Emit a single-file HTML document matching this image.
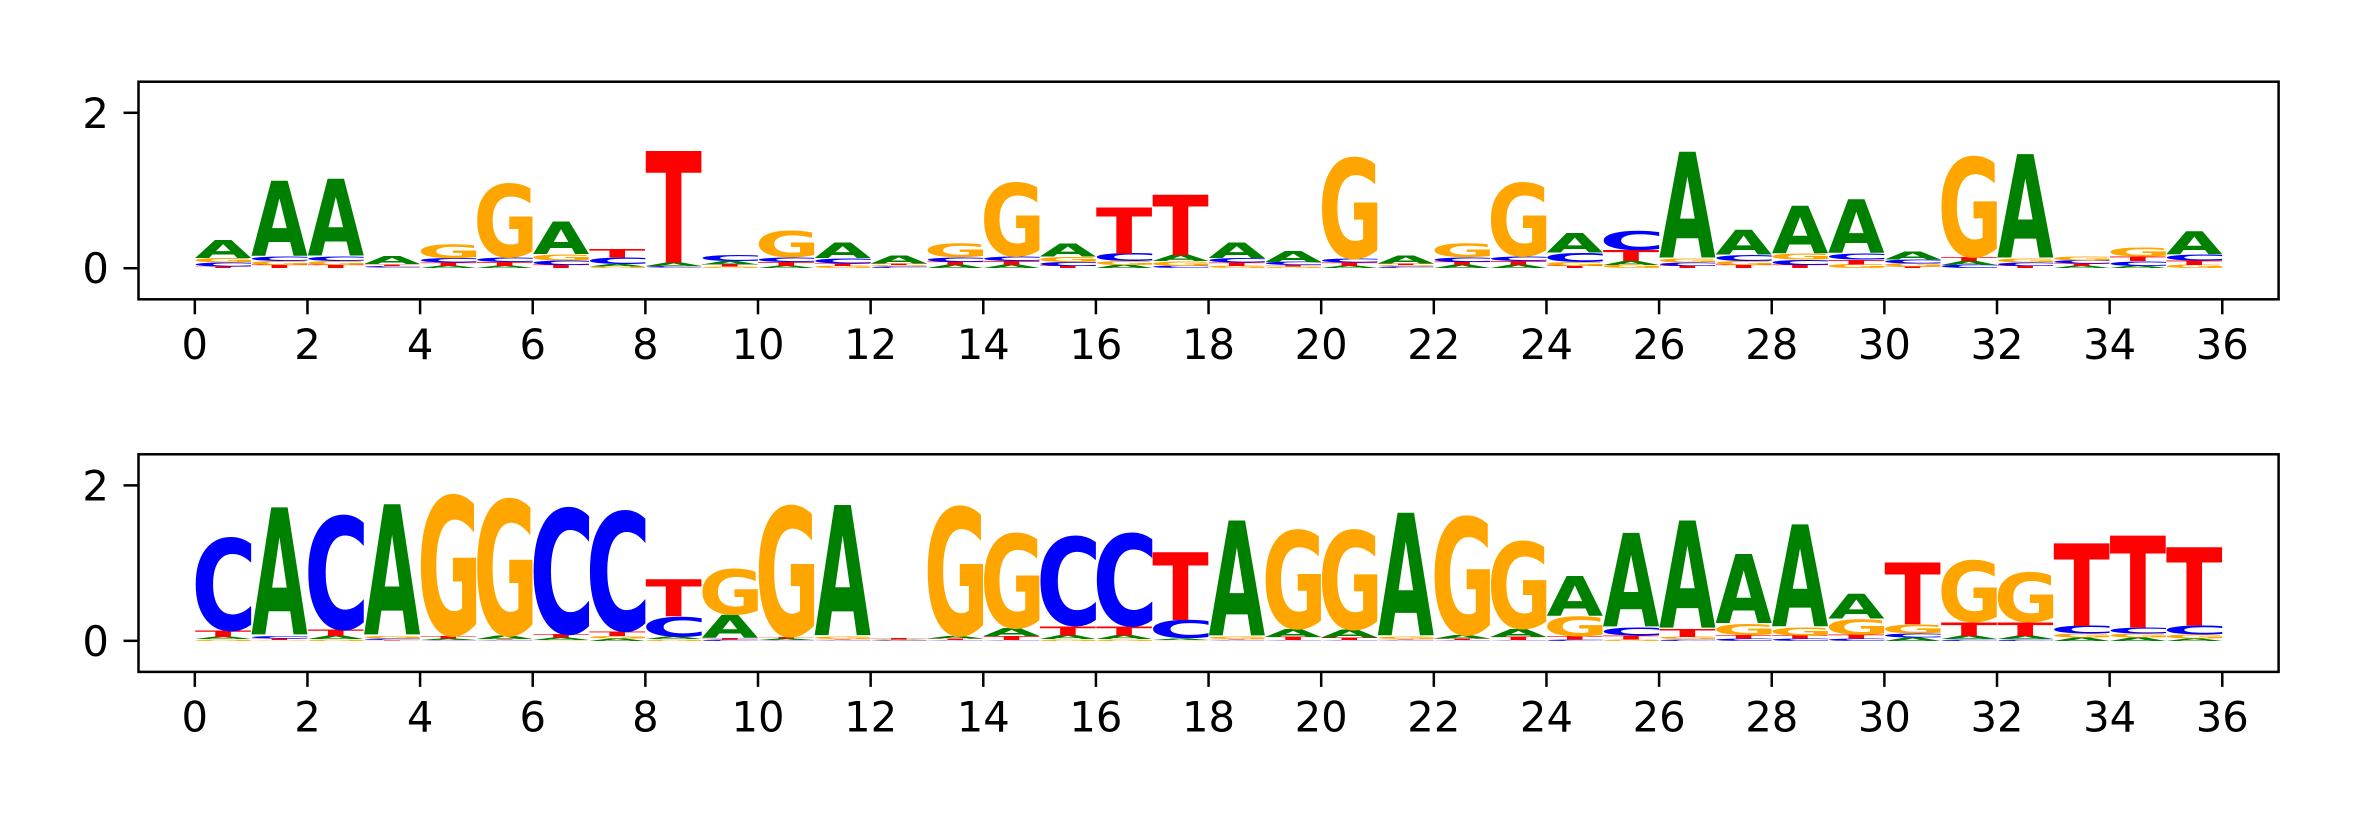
<!DOCTYPE html>
<html><head><meta charset="utf-8"><style>
html,body{margin:0;padding:0;background:#fff;}
svg{display:block;}
text{font-family:"DejaVu Sans","Liberation Sans",sans-serif;}
</style></head><body>
<svg id="fig" width="2362" height="826" viewBox="0 0 2362 826" xmlns="http://www.w3.org/2000/svg">
<rect width="2362" height="826" fill="#fff"/>
</svg>
<script>
// Panel 1 (top) information per base, positions 0..35
const topA=[0.24,0.98,1.0,0.1,0.03,0.03,0.42,0.03,0.04,0.04,0.03,0.2,0.1,0.04,0.04,0.17,0.04,0.08,0.2,0.14,0.03,0.1,0.04,0.04,0.25,0.05,1.38,0.32,0.62,0.7,0.1,0.05,1.35,0.03,0.03,0.3];
const topC=[0.05,0.06,0.06,0.02,0.06,0.06,0.06,0.09,0.02,0.08,0.06,0.07,0.02,0.06,0.06,0.05,0.1,0.03,0.06,0.04,0.05,0.02,0.06,0.06,0.12,0.25,0.04,0.08,0.07,0.08,0.05,0.04,0.04,0.04,0.06,0.08];
const topG=[0.06,0.05,0.05,0.01,0.18,0.97,0.08,0.02,0.01,0.02,0.35,0.03,0.02,0.18,0.97,0.07,0.05,0.06,0.03,0.02,1.33,0.02,0.18,0.97,0.05,0.04,0.05,0.05,0.08,0.05,0.04,1.32,0.05,0.05,0.12,0.04];
const topT=[0.02,0.04,0.04,0.02,0.04,0.05,0.04,0.11,1.46,0.03,0.05,0.03,0.02,0.04,0.05,0.03,0.6,0.79,0.04,0.02,0.04,0.02,0.04,0.05,0.03,0.14,0.03,0.04,0.04,0.06,0.02,0.05,0.03,0.03,0.06,0.06];
// Panel 2 (bottom)
const botA=[0.03,1.66,0.04,1.7,0.02,0.04,0.03,0.03,0.03,0.3,0.02,1.7,0.01,0.03,0.1,0.05,0.05,0.02,1.5,0.1,0.1,1.6,0.04,0.1,0.52,1.22,1.4,0.9,1.33,0.32,0.04,0.04,0.04,0.04,0.04,0.03];
const botC=[1.22,0.03,1.5,0.02,0.01,0.01,1.66,1.58,0.26,0.02,0.01,0.01,0.005,0.01,0.01,1.18,1.22,0.24,0.01,0.01,0.01,0.01,0.01,0.01,0.02,0.1,0.02,0.03,0.03,0.03,0.05,0.02,0.02,0.1,0.08,0.12];
const botG=[0.02,0.01,0.02,0.03,1.85,1.8,0.01,0.03,0.02,0.6,1.72,0.03,0.005,1.7,1.25,0.02,0.02,0.01,0.03,1.3,1.31,0.03,1.56,1.15,0.26,0.02,0.03,0.15,0.1,0.2,0.12,0.81,0.65,0.05,0.05,0.05];
const botT=[0.08,0.02,0.08,0.01,0.03,0.01,0.04,0.06,0.48,0.02,0.02,0.01,0.02,0.02,0.05,0.12,0.12,0.88,0.01,0.04,0.03,0.01,0.02,0.04,0.04,0.05,0.1,0.04,0.04,0.05,0.81,0.18,0.18,1.08,1.2,1.02];
const xTicks=[0,2,4,6,8,10,12,14,16,18,20,22,24,26,28,30,32,34,36];
const yTicks=[0,2];

const NS="http://www.w3.org/2000/svg";
const svg=document.getElementById('fig');
const COLORS={A:'#008000',C:'#0000ff',G:'#ffa500',T:'#ff0000'};
const X0=138.5,X1=2278.6,XMIN=-1,XMAX=37,YMIN=-0.4,YMAX=2.4;
const panels=[{top:81.7,h:217.6,data:{A:topA,C:topC,G:topG,T:topT},name:'top'},
              {top:454.3,h:217.6,data:{A:botA,C:botC,G:botG,T:botT},name:'bottom'}];
const cv=document.createElement('canvas').getContext('2d');
cv.font='bold 100px "DejaVu Sans"';
const metrics={};
for(const L of 'ACGT'){const m=cv.measureText(L);metrics[L]={l:m.actualBoundingBoxLeft,r:m.actualBoundingBoxRight,a:m.actualBoundingBoxAscent,d:m.actualBoundingBoxDescent};}
function mk(tag,attrs){const e=document.createElementNS(NS,tag);for(const k in attrs)e.setAttribute(k,attrs[k]);return e;}
panels.forEach(p=>{
  const g=mk('g',{});
  
  
  svg.appendChild(g);
  const xs=v=>X0+(v-XMIN)/(XMAX-XMIN)*(X1-X0);
  const ys=v=>p.top+(YMAX-v)/(YMAX-YMIN)*p.h;
  const n=p.data.A.length;
  for(let i=0;i<n;i++){
    const stack='ACGT'.split('').map(L=>[L,p.data[L][i]]).sort((a,b)=>a[1]-b[1]);
    let base=0;
    stack.forEach(([L,v])=>{
      if(v<=0)return;
      const m=metrics[L];
      const x0=xs(i),w=xs(i+1)-xs(i);
      const yTop=ys(base+v),hh=ys(base)-ys(base+v);
      const sx=w/(m.l+m.r),sy=hh/(m.a+m.d);
      const t=mk('text',{transform:`translate(${x0+m.l*sx},${yTop+m.a*sy}) scale(${sx},${sy})`,'font-size':100,'font-weight':'bold',fill:COLORS[L]});
      
      
      t.textContent=L;
      g.appendChild(t);
      base+=v;
    });
  }
  // frame
  const fr=mk('rect',{x:X0,y:p.top,width:X1-X0,height:p.h,fill:'none',stroke:'#000','stroke-width':2.5});
  
  
  g.appendChild(fr);
  const yb=p.top+p.h;
  xTicks.forEach(v=>{
    const x=xs(v);
    const tk=mk('line',{x1:x,x2:x,y1:yb,y2:yb+15,stroke:'#000','stroke-width':2.5});
    
    
    g.appendChild(tk);
    const lb=mk('text',{x:x,y:yb+15+14.6+30,'font-size':41.7,'text-anchor':'middle',fill:'#000'});
    
    
    lb.textContent=v;
    g.appendChild(lb);
  });
  yTicks.forEach(v=>{
    const y=ys(v);
    const tk=mk('line',{x1:X0-15,x2:X0,y1:y,y2:y,stroke:'#000','stroke-width':2.5});
    
    
    g.appendChild(tk);
    const lb=mk('text',{x:X0-15-14.6,y:y+15,'font-size':41.7,'text-anchor':'end',fill:'#000'});
    
    
    lb.textContent=v;
    g.appendChild(lb);
  });
});
</script>
</body></html>
